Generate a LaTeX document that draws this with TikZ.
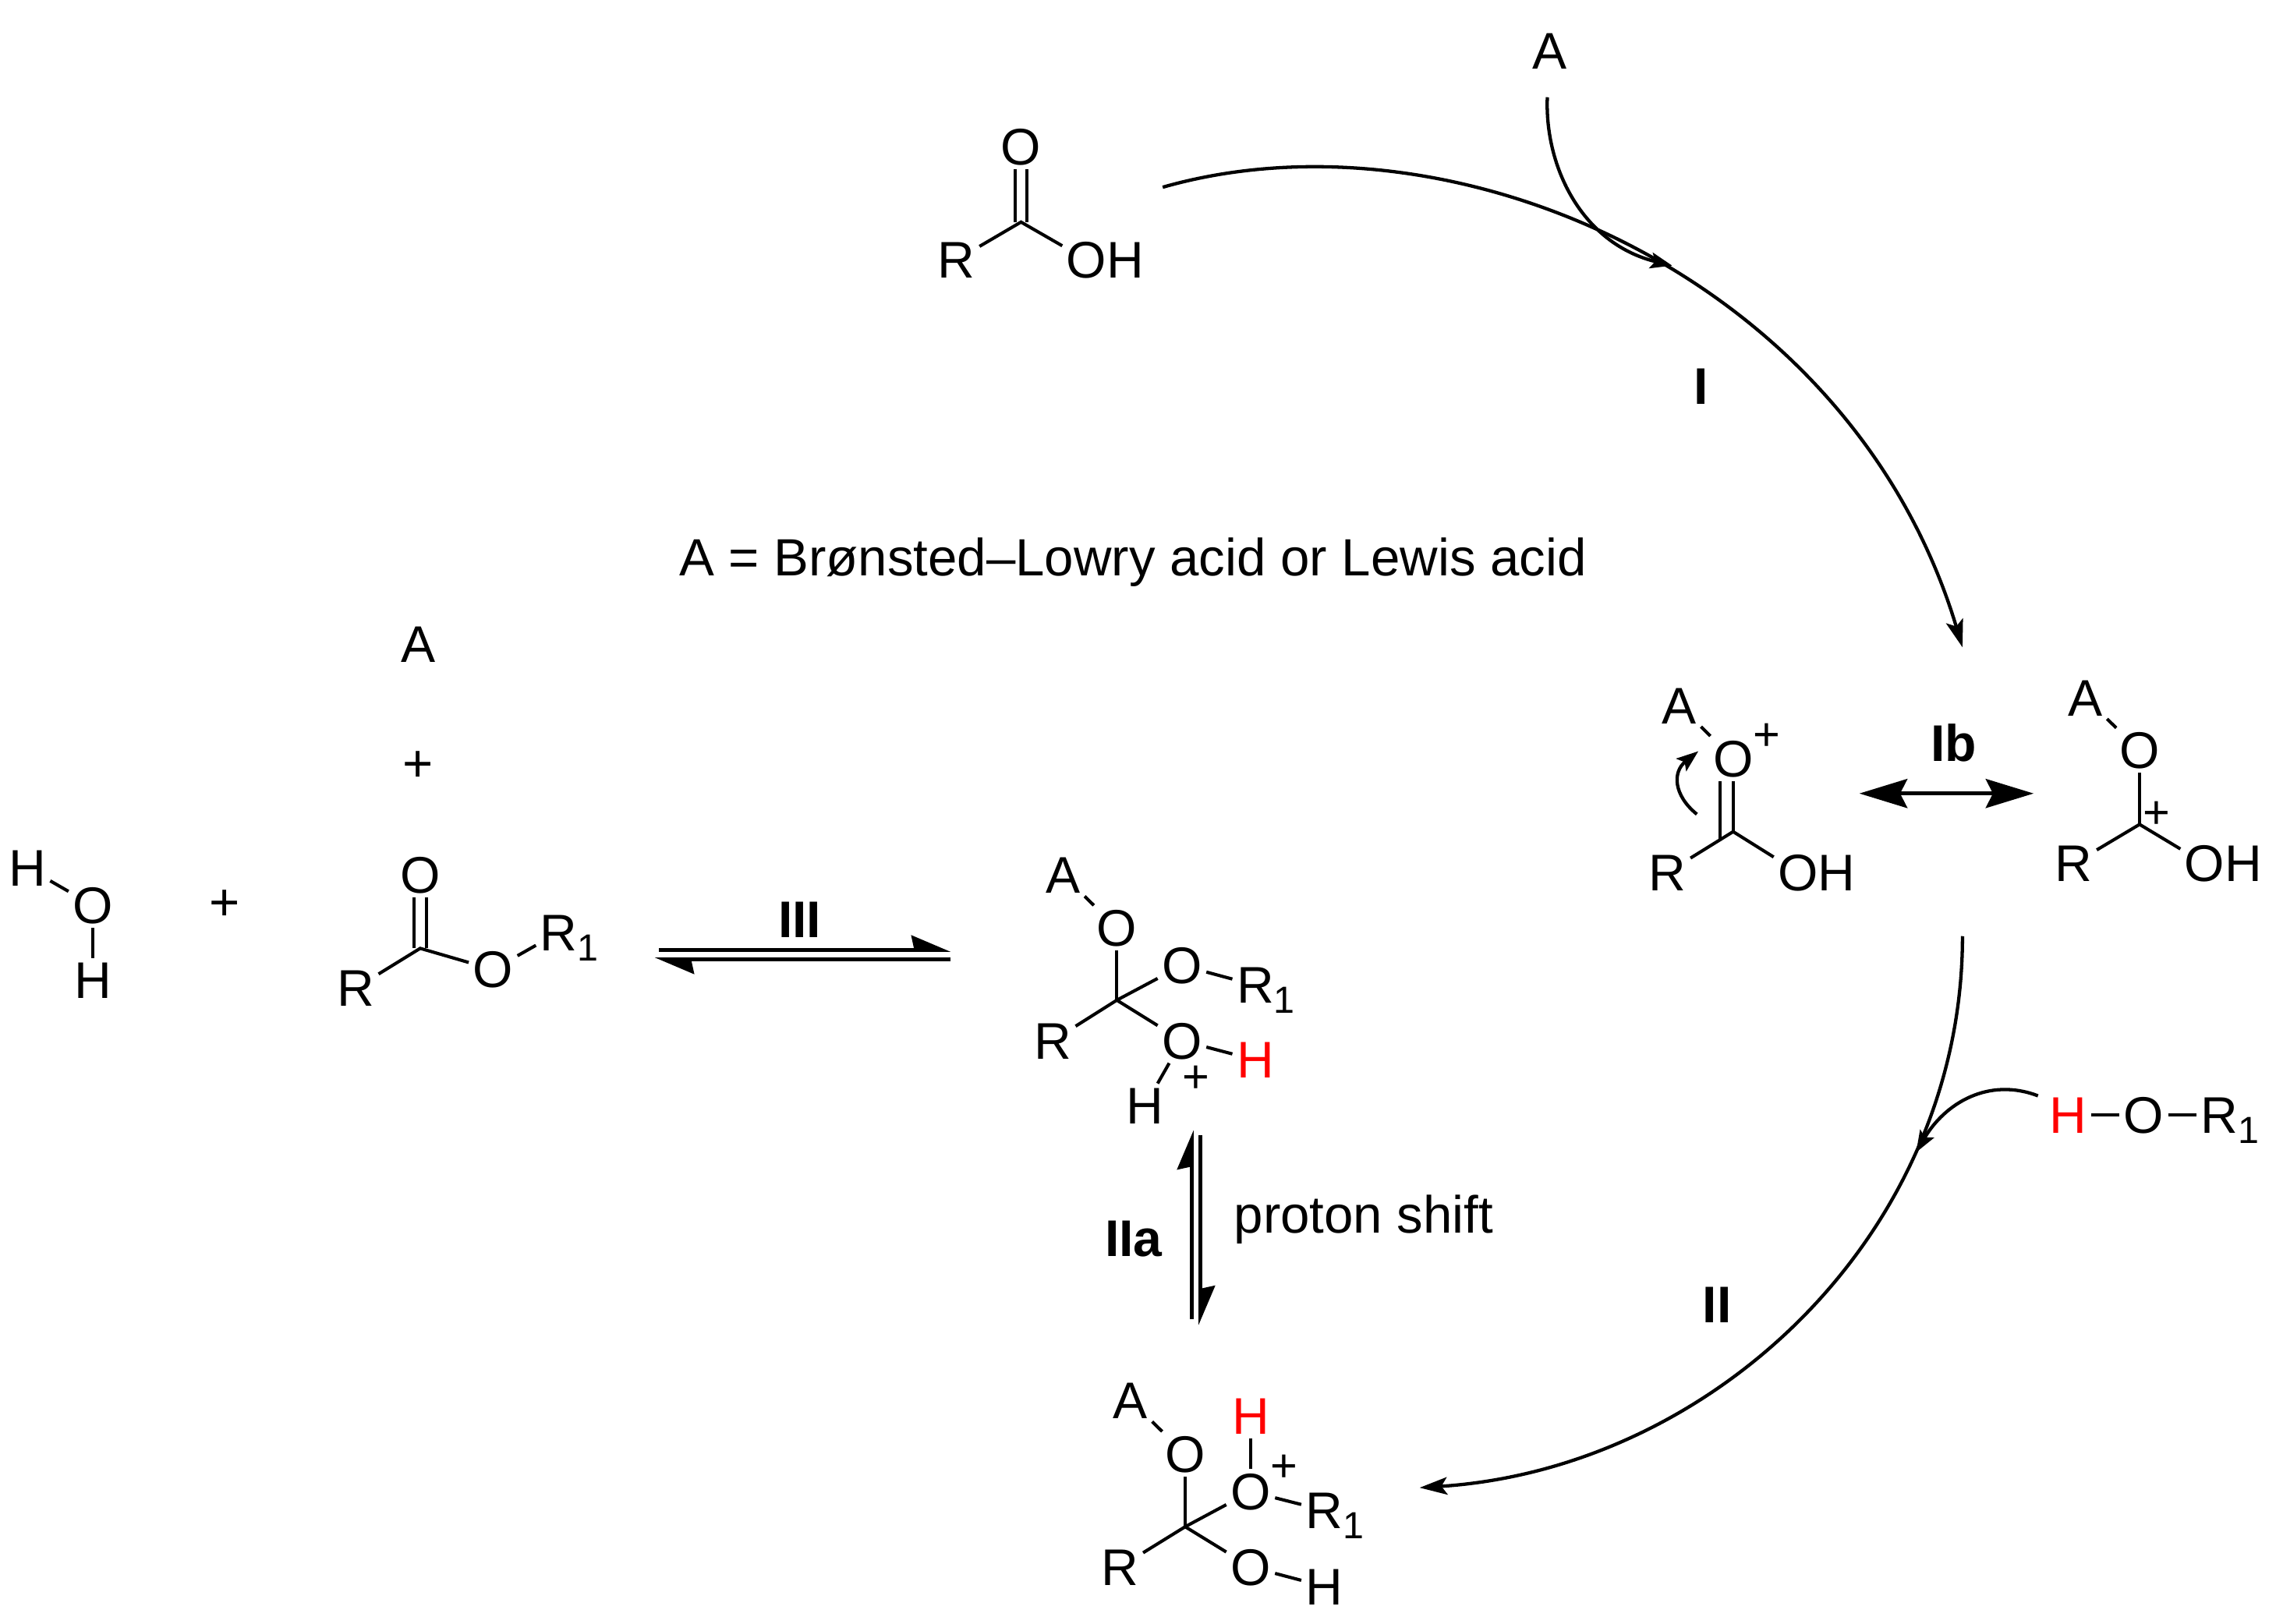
\documentclass[tikz,border=0pt]{standalone}
\usepackage{fontspec}
\setmainfont{Liberation Sans}
\usetikzlibrary{arrows.meta}
\newcommand{\atomfont}{\fontsize{35.5}{36}\selectfont}
\newcommand{\notefont}{\fontsize{36.1}{37}\selectfont}
\newcommand{\subfont}{\fontsize{26}{26}\selectfont}
\newcommand{\plusfont}{\fontsize{32}{32}\selectfont}
\newcommand{\Rone}{R\rlap{\raisebox{-7pt}{\subfont 1}}}
\tikzset{
  atom/.style={inner sep=0pt,outer sep=3pt,text height=25pt,text depth=0pt,font=\atomfont},
  redatom/.style={atom,text=red},
  charge/.style={inner sep=0pt,text height=22pt,text depth=0pt,font=\plusfont},
  stepname/.style={inner sep=0pt,text height=25pt,text depth=0pt,font=\atomfont\bfseries},
  plain/.style={inner sep=0pt,font=\notefont},
  bond/.style={line width=2.2pt},
  curve/.style={line width=2.3pt,-{Stealth[length=19pt,width=12pt,inset=4pt]}},
  smallcurve/.style={line width=2.3pt,-{Stealth[length=15pt,width=11pt,inset=3pt]}},
  reso/.style={line width=2.5pt,{Stealth[length=33pt,width=20pt,inset=5pt]}-{Stealth[length=33pt,width=20pt,inset=5pt]}},
  harpoonup/.style={line width=2.6pt,-{Stealth[harpoon,length=24pt,width=20pt,inset=2pt]}},
}
\begin{document}
\begin{tikzpicture}[x=1pt,y=-1pt]
\useasboundingbox (0,0) rectangle (1568,1118.4);

% top acid
\node[atom] (aO) at (703.4,101) {O};
\coordinate (aC) at (703.4,153);
\node[atom] (aR) at (659,179) {R};
\node[atom] (aOH) at (748.6,179) {O\rlap{H}};
\draw[bond] ([xshift=-4.2pt]aO.south) -- ([xshift=-4.2pt]aC);
\draw[bond] ([xshift=4.2pt]aO.south) -- ([xshift=4.2pt]aC);
\draw[bond] (aR) -- (aC) -- (aOH);

\node[atom] (topA) at (1067.5,35) {A};
\coordinate (i1) at (801,129);
\coordinate (i2) at (1352,446);
\coordinate (t1) at (1066,67);
\coordinate (t2) at (1152,183);
\draw[curve] (i1) .. controls (1000,72) and (1275,190) .. (i2);
\draw[smallcurve] (t1) .. controls (1064,115) and (1090,168) .. (t2);
\node[stepname] (lI) at (1172,266) {I};
\node[plain,anchor=center] (note) at (780.5,387.5) {A = Brønsted–Lowry acid or Lewis acid};

% protonated acid, left form
\node[atom] (bA) at (1157,486) {A};
\node[atom] (bO) at (1194,522.6) {O};
\node[charge] (bP) at (1217,505.8) {+};
\coordinate (bC) at (1194,573);
\node[atom] (bR) at (1148.8,601) {R};
\node[atom] (bOH) at (1238.7,601) {O\rlap{H}};
\draw[bond] (bA) -- (bO);
\draw[bond] (bO.south) -- (bC);
\draw[bond] ([xshift=-9pt]bO.south) -- ([xshift=-9pt,yshift=-5pt]bC);
\draw[bond] (bR) -- (bC) -- (bOH);
\coordinate (b1) at (1169,561);
\coordinate (b2) at (1170,517.6);
\draw[smallcurve] (b1) .. controls (1153,548) and (1152,532) .. (b2);

% resonance
\coordinate (r1) at (1281,546.7);
\coordinate (r2) at (1401,546.7);
\draw[reso] (r1) -- (r2);
\node[stepname] (lIb) at (1346,512) {Ib};

% protonated acid, right form
\node[atom] (cA) at (1436.7,481) {A};
\node[atom] (cO) at (1474,517) {O};
\coordinate (cC) at (1474,568);
\node[charge] (cP) at (1485.8,560) {+};
\node[atom] (cR) at (1428.7,595) {R};
\node[atom] (cOH) at (1518.9,595) {O\rlap{H}};
\draw[bond] (cA) -- (cO);
\draw[bond] (cO) -- (cC);
\draw[bond] (cR) -- (cC) -- (cOH);

% step II
\coordinate (ii1) at (1352,645);
\coordinate (ii2) at (978,1025);
\draw[curve] (ii1) .. controls (1352,850) and (1180,1012) .. (ii2);
\node[stepname] (lII) at (1183,899) {II};

% alcohol
\node[redatom] (dH) at (1425,768) {H};
\node[atom] (dO) at (1476.9,768) {O};
\node[atom] (dR) at (1529,768) {\Rone};
\draw[bond] (dH) -- (dO);
\draw[bond] (dO) -- (dR);
\coordinate (d1) at (1404,755);
\coordinate (d2) at (1320,794);
\draw[smallcurve] (d1) .. controls (1370,742) and (1340,760) .. (d2);

% bottom intermediate
\node[atom] (eA) at (778.9,965) {A};
\node[atom] (eO) at (816.5,1001.8) {O};
\coordinate (eC) at (816.5,1051.9);
\node[redatom] (eH) at (861.6,975.8) {H};
\node[atom] (eOp) at (861.6,1027.7) {O};
\node[charge] (eP) at (884.5,1010) {+};
\node[atom] (eR1) at (912.3,1040.6) {\Rone};
\node[atom] (eR) at (771.7,1079.6) {R};
\node[atom] (eOb) at (861.6,1079.6) {O};
\node[atom] (eHb) at (912.3,1093) {H};
\draw[bond] (eA) -- (eO);
\draw[bond] (eO) -- (eC);
\draw[bond] (eH) -- (eOp);
\draw[bond] (eOp) -- (eC);
\draw[bond] (eOp) -- (eR1);
\draw[bond] (eR) -- (eC) -- (eOb);
\draw[bond] (eOb) -- (eHb);

% middle intermediate
\node[atom] (fA) at (732.4,603) {A};
\node[atom] (fO) at (769.4,639.3) {O};
\coordinate (fC) at (769.4,689.1);
\node[atom] (fO2) at (814.3,665.2) {O};
\node[atom] (fR1) at (864.8,678.8) {\Rone};
\node[atom] (fR) at (725.2,717) {R};
\node[atom] (fOp) at (814.3,717) {O};
\node[redatom] (fHr) at (864.8,730.3) {H};
\node[charge] (fP) at (824.2,741.7) {+};
\node[atom] (fH) at (788.7,762) {H};
\draw[bond] (fA) -- (fO);
\draw[bond] (fO) -- (fC);
\draw[bond] (fC) -- (fO2);
\draw[bond] (fO2) -- (fR1);
\draw[bond] (fR) -- (fC) -- (fOp);
\draw[bond] (fOp) -- (fHr);
\draw[bond] (fOp) -- (fH);

% IIa
\coordinate (g1) at (821,909);
\coordinate (g2) at (821,778.6);
\coordinate (g3) at (827,782);
\coordinate (g4) at (827,913);
\draw[harpoonup] (g1) -- (g2);
\draw[harpoonup] (g3) -- (g4);
\node[stepname] (lIIa) at (781,853) {IIa};
\node[plain,anchor=base west] (shift) at (850,849.5) {proton shift};

% left reactants
\node[atom] (hA) at (288.2,444) {A};
\node[plain,text height=24pt,text depth=0pt] (hP) at (288.2,526.4) {+};
\node[atom] (wH1) at (18.8,597.8) {H};
\node[atom] (wO) at (64,623.8) {O};
\node[atom] (wH2) at (64,675.6) {H};
\draw[bond] (wH1) -- (wO);
\draw[bond] (wO) -- (wH2);
\node[plain,text height=24pt,text depth=0pt] (wP) at (155,622.3) {+};
\node[atom] (kO) at (289.5,602.7) {O};
\coordinate (kC) at (289.5,653.4);
\node[atom] (kR) at (245,680.8) {R};
\node[atom] (kOe) at (339.7,668) {O};
\node[atom] (kR1) at (385,642.4) {\Rone};
\draw[bond] ([xshift=-4.2pt]kO.south) -- ([xshift=-4.2pt]kC);
\draw[bond] ([xshift=4.2pt]kO.south) -- ([xshift=4.2pt]kC);
\draw[bond] (kR) -- (kC) -- (kOe);
\draw[bond] (kOe) -- (kR1);

% III
\coordinate (m1) at (454,654.5);
\coordinate (m2) at (655,654.5);
\coordinate (m3) at (655,661);
\coordinate (m4) at (451,661);
\draw[harpoonup] (m1) -- (m2);
\draw[harpoonup] (m3) -- (m4);
\node[stepname] (lIII) at (551,633.4) {III};
\end{tikzpicture}
\end{document}
